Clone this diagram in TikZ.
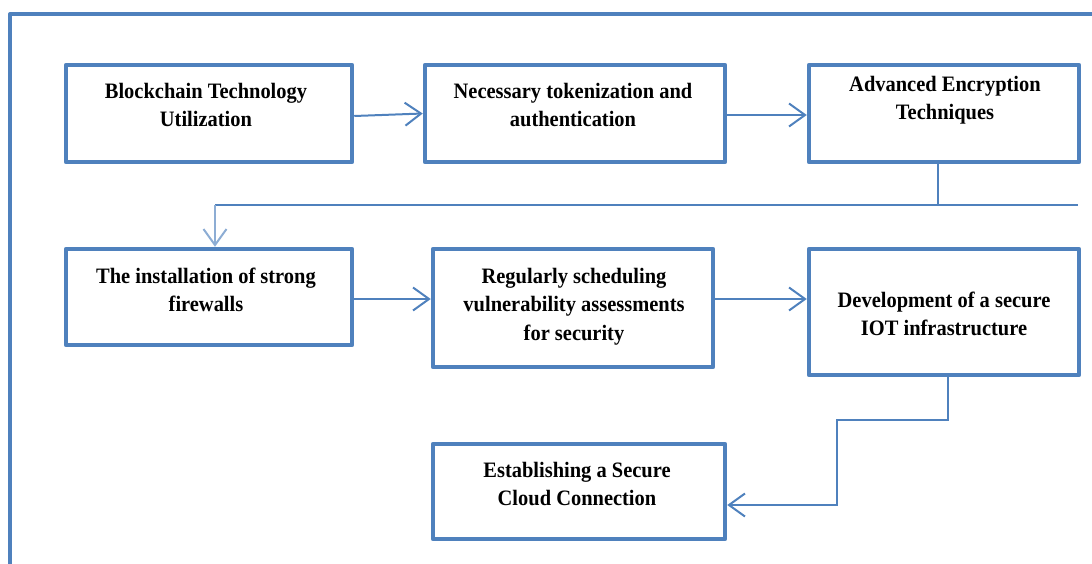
\documentclass[tikz,border=0pt]{standalone}
\usepackage{fontspec}
\setmainfont[FakeStretch=0.93]{Liberation Serif}
\usetikzlibrary{arrows.meta,calc}
\definecolor{myblue}{HTML}{4F81BD}
\begin{document}
\begin{tikzpicture}[x=1pt,y=-1pt,
  box/.style={draw=myblue, line width=4.5pt, line join=round, inner sep=0pt, fill=white},
  lbl/.style={anchor=base, inner sep=0pt, font=\fontsize{22}{28.5}\selectfont\bfseries},
  conn/.style={draw=myblue, line width=2pt},
  arr/.style={conn, -{Straight Barb[length=16pt,width=23pt,line width=2pt]}},
  frameline/.style={draw=myblue, line width=4pt, line join=round}]
\useasboundingbox (0,0) rectangle (1092,563);
\coordinate (fb) at (10,575);
\coordinate (fc) at (10,14);
\coordinate (fr) at (1100,14);
\draw[frameline] (fb) -- (fc) -- (fr);

\node[box, minimum width=286pt, minimum height=97pt] (b1) at (209,113.5) {};
\node[box, minimum width=300pt, minimum height=97pt] (b2) at (575,113.5) {};
\node[box, minimum width=270pt, minimum height=97pt] (b3) at (944,113.5) {};
\node[box, minimum width=286pt, minimum height=96pt] (b4) at (209,297) {};
\node[box, minimum width=280pt, minimum height=118pt] (b5) at (573,308) {};
\node[box, minimum width=270pt, minimum height=126pt] (b6) at (944,312) {};
\node[box, minimum width=292pt, minimum height=95pt] (b7) at (579,491.5) {};

\node[lbl] (t1) at (206,98) {\begin{tabular}[t]{@{}c@{}}Blockchain Technology\\Utilization\end{tabular}};
\node[lbl] (t2) at (573,98) {\begin{tabular}[t]{@{}c@{}}Necessary tokenization and\\authentication\end{tabular}};
\node[lbl] (t3) at (945,91) {\begin{tabular}[t]{@{}c@{}}Advanced Encryption\\Techniques\end{tabular}};
\node[lbl] (t4) at (206,283) {\begin{tabular}[t]{@{}c@{}}The installation of strong\\firewalls\end{tabular}};
\node[lbl] (t5) at (574,283) {\begin{tabular}[t]{@{}c@{}}Regularly scheduling\\vulnerability assessments\\for security\end{tabular}};
\node[lbl] (t6) at (944,307) {\begin{tabular}[t]{@{}c@{}}Development of a secure\\IOT infrastructure\end{tabular}};
\node[lbl] (t7) at (577,477) {\begin{tabular}[t]{@{}c@{}}Establishing a Secure\\Cloud Connection\end{tabular}};

% row 1 arrows
\draw[arr] ($(b1.east)+(0,2.5)$) -- (b2.west);
\draw[arr] ($(b2.east)+(0,1.5)$) -- ($(b3.west)+(0,1.5)$);

% b3 -> b4
\coordinate (k0) at (938,0);
\coordinate (k1) at (1078,205);
\coordinate (k2) at (215,205);
\draw[conn] (b3.south -| k0) -- (k0 |- k1);
\draw[conn] (k1) -- (k2);
\draw[arr, draw=myblue!65] (k2) -- (k2 |- b4.north);

% row 2 arrows
\coordinate (r2) at (0,299);
\draw[arr] (b4.east |- r2) -- (b5.west |- r2);
\draw[arr] (b5.east |- r2) -- (b6.west |- r2);

% b6 -> b7
\coordinate (m1) at (948,420);
\coordinate (m2) at (837,420);
\coordinate (m3) at (837,505);
\draw[arr] (b6.south -| m1) -- (m1) -- (m2) -- (m3) -- (b7.east |- m3);
\end{tikzpicture}
\end{document}
